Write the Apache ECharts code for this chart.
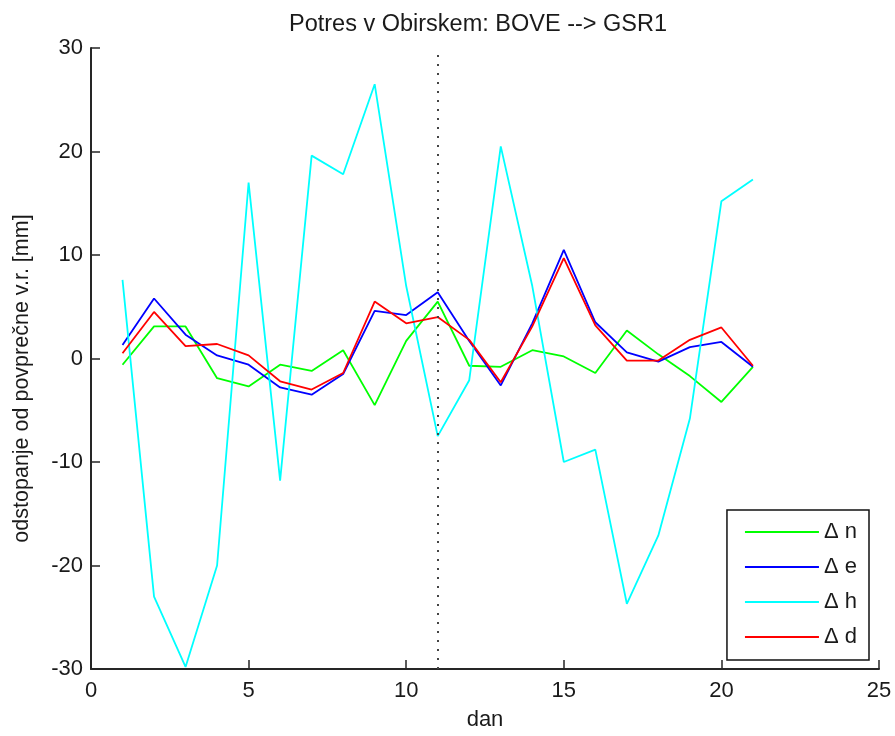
<!DOCTYPE html>
<html>
<head>
<meta charset="utf-8">
<script src="https://cdn.jsdelivr.net/npm/echarts@6/dist/echarts.min.js"></script>
<style>html,body{margin:0;padding:0;background:#fff;}#c{width:895px;height:736px;}</style>
</head>
<body>
<div id="c"></div>
<script>
const days = [1,2,3,4,5,6,7,8,9,10,11,12,13,14,15,16,17,18,19,20,21];
const dN = [-0.6, 3.1, 3.1, -1.9, -2.7, -0.6, -1.2, 0.8, -4.5, 1.7, 5.5, -0.7, -0.8, 0.8, 0.2, -1.4, 2.7, 0.4, -1.7, -4.2, -0.8];
const dE = [1.3, 5.8, 2.3, 0.3, -0.6, -2.8, -3.5, -1.5, 4.6, 4.2, 6.4, 1.7, -2.6, 3.4, 10.5, 3.5, 0.6, -0.3, 1.1, 1.6, -0.8];
const dH = [7.6, -23.0, -29.8, -20.0, 17.0, -11.8, 19.6, 17.8, 26.5, 7.0, -7.5, -2.1, 20.5, 7.0, -10.0, -8.8, -23.7, -17.1, -5.8, 15.2, 17.3];
const dD = [0.5, 4.5, 1.2, 1.4, 0.3, -2.2, -3.0, -1.4, 5.5, 3.4, 4.0, 1.8, -2.3, 3.1, 9.7, 3.2, -0.2, -0.2, 1.8, 3.0, -0.7];
const seriesNames = ['\u0394 n', '\u0394 e', '\u0394 h', '\u0394 d'];
const seriesColors = ['#00ff00', '#0000ff', '#00ffff', '#ff0000'];
const eventDay = 11;
const xTicks = {min: 0, max: 25, step: 5};
const yTicks = {min: -30, max: 30, step: 10};

const font = 'Arial, "Liberation Sans", sans-serif';
const axisColor = '#262626';
const pair = arr => days.map((d, i) => [d, arr[i]]);
const allData = [dN, dE, dH, dD];

const series = allData.map((arr, k) => ({
  name: seriesNames[k],
  type: 'line',
  data: pair(arr),
  symbol: 'none',
  showSymbol: false,
  animation: false,
  lineStyle: {color: seriesColors[k], width: 1.8},
  itemStyle: {color: seriesColors[k]}
}));
series[0].markLine = {
  silent: true,
  symbol: 'none',
  label: {show: false},
  animation: false,
  lineStyle: {color: '#444', width: 2, type: [2, 7]},
  data: [{xAxis: eventDay}]
};

const chart = echarts.init(document.getElementById('c'), null, {renderer: 'canvas'});
chart.setOption({
  backgroundColor: '#fff',
  animation: false,
  title: {
    text: 'Potres v Obirskem: BOVE --> GSR1',
    left: 284,
    top: 8,
    textStyle: {fontFamily: font, fontSize: 23.5, fontWeight: 'normal', color: '#1a1a1a'}
  },
  grid: {left: 91, right: 16, top: 48, bottom: 66, containLabel: false},
  legend: {
    data: seriesNames,
    orient: 'vertical',
    right: 26,
    bottom: 76,
    backgroundColor: '#fff',
    borderColor: '#111',
    borderWidth: 1.5,
    borderRadius: 0,
    padding: [11, 12, 12, 17],
    itemWidth: 74,
    itemHeight: 14,
    itemGap: 13,
    itemStyle: {opacity: 0},
    textStyle: {fontFamily: font, fontSize: 22, color: '#1a1a1a'}
  },
  xAxis: {
    type: 'value',
    min: xTicks.min, max: xTicks.max, interval: xTicks.step,
    name: 'dan',
    nameLocation: 'middle',
    nameGap: 40,
    nameTextStyle: {fontFamily: font, fontSize: 22, color: '#1a1a1a'},
    axisLine: {show: true, onZero: false, lineStyle: {color: axisColor, width: 2}},
    axisTick: {show: true, inside: true, length: 9, lineStyle: {color: axisColor, width: 1.5}},
    axisLabel: {fontFamily: font, fontSize: 22, color: '#1a1a1a', margin: 11},
    splitLine: {show: false}
  },
  yAxis: {
    type: 'value',
    min: yTicks.min, max: yTicks.max, interval: yTicks.step,
    name: 'odstopanje od povprečne v.r. [mm]',
    nameLocation: 'middle',
    nameGap: 58,
    nameTextStyle: {fontFamily: font, fontSize: 21.5, color: '#1a1a1a', padding: [0, 40, 0, 0]},
    axisLine: {show: true, onZero: false, lineStyle: {color: axisColor, width: 2}},
    axisTick: {show: true, inside: true, length: 9, lineStyle: {color: axisColor, width: 1.5}},
    axisLabel: {fontFamily: font, fontSize: 22, color: '#1a1a1a', margin: 8},
    splitLine: {show: false}
  },
  series: series
});
</script>
</body>
</html>
